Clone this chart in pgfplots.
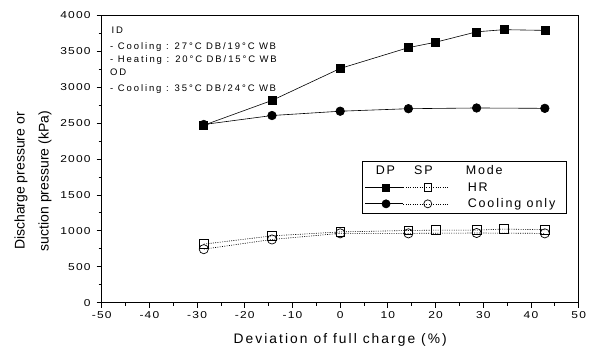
\documentclass[border=0pt]{standalone}
\usepackage{pgfplots}
\pgfplotsset{compat=1.18}
\usepackage{fontspec}
\setmainfont{Liberation Sans}[LetterSpace=15]
\newfontfamily\plainfont{Liberation Sans}
\newfontfamily\annofont{Liberation Sans}[LetterSpace=20]
\newfontfamily\tickfont{Liberation Sans}[FakeStretch=1.2, LetterSpace=12]
\newcommand\tl[1]{\hbox{\tickfont\fontsize{10}{12}\selectfont #1}}
\begin{document}
\begin{tikzpicture}
\begin{axis}[
  name=ax,
  scale only axis,
  width=477pt, height=287.4pt,
  xmin=-50, xmax=50, ymin=0, ymax=4000,
  xtick={-50,-40,...,50},
  xticklabels={\tl{-50},\tl{-40},\tl{-30},\tl{-20},\tl{-10},\tl{0},\tl{10},\tl{20},\tl{30},\tl{40},\tl{50}},
  ytick={0,500,...,4000},
  yticklabels={\tl{0},\tl{500},\tl{1000},\tl{1500},\tl{2000},\tl{2500},\tl{3000},\tl{3500},\tl{4000}},
  yticklabel style={xshift=-2.5pt},
  minor tick num=1,
  tick pos=left,
  tick align=outside,
  major tick length=5pt,
  minor tick length=3pt,
  tick style={black, line width=0.8pt},
  axis line style={line width=1pt},
  xlabel={Deviation of full charge (\%)},
  xlabel style={font=\fontsize{13.8}{15}\selectfont, at={(axis description cs:0.5,-0.141)}, anchor=base},
  ylabel={Discharge pressure or\\suction pressure (kPa)},
  ylabel style={font=\plainfont\fontsize{14}{24}\selectfont, align=center, at={(axis description cs:-0.144,0.423)}, anchor=center},
  legend style={
    at={(axis cs:4.5,1972)}, anchor=north west,
    draw=black, line width=0.8pt,
    font=\fontsize{12.5}{14}\selectfont,
    inner xsep=3pt, inner ysep=2.5pt,
    row sep=2pt,
    cells={anchor=west},
    /tikz/every odd column/.append style={column sep=17pt},
  },
  legend cell align=left,
]
\addplot[forget plot, black, line width=0.6pt, mark=square*, mark size=4pt, mark options={solid}]
  coordinates {(-28.6,2470) (-14.3,2815) (0,3260) (14.3,3550) (20,3625) (28.6,3770) (34.3,3800) (42.9,3790)};
\addplot[forget plot, black, line width=0.6pt, mark=*, mark size=4.3pt, mark options={solid}]
  coordinates {(-28.6,2480) (-14.3,2605) (0,2665) (14.3,2700) (28.6,2710) (42.9,2705)};
\addplot[forget plot, black, line width=0.6pt, dash pattern=on 1pt off 1.3pt, mark=square, mark size=4.3pt, mark options={solid, fill=white, line width=0.7pt}]
  coordinates {(-28.6,815) (-14.3,930) (0,985) (14.3,1005) (20,1010) (28.6,1010) (34.3,1025) (42.9,1015)};
\addplot[forget plot, black, line width=0.6pt, dash pattern=on 1pt off 1.3pt, mark=o, mark size=4.6pt, mark options={solid, fill=white, line width=0.7pt}]
  coordinates {(-28.6,745) (-14.3,880) (0,965) (14.3,965) (28.6,970) (42.9,965)};
\addlegendimage{empty legend}
\addlegendentry{\hspace*{-92pt}\makebox[38.3pt][l]{DP}\makebox[51.7pt][l]{SP}Mode}
\addlegendimage{legend image code/.code={
  \draw[black, solid, line width=0.8pt] (0pt,0pt) -- (38pt,0pt);
  \draw[black, line width=0.6pt, dash pattern=on 1pt off 1.3pt] (38pt,0pt) -- (83pt,0pt);
  \draw[black, solid, mark=square*, mark size=3.6pt] plot coordinates {(20.6pt,0pt)};
  \draw[black, solid, mark=square, mark size=3.8pt, mark options={fill=white, line width=0.7pt}] plot coordinates {(62.3pt,0pt)};
}}
\addlegendentry{HR}
\addlegendimage{legend image code/.code={
  \draw[black, solid, line width=0.8pt] (0pt,0pt) -- (38pt,0pt);
  \draw[black, line width=0.6pt, dash pattern=on 1pt off 1.3pt] (38pt,0pt) -- (83pt,0pt);
  \draw[black, solid, mark=*, mark size=4pt] plot coordinates {(20.6pt,0pt)};
  \draw[black, solid, mark=o, mark size=4pt, mark options={fill=white, line width=0.7pt}] plot coordinates {(62.3pt,0pt)};
}}
\addlegendentry{Cooling only\hspace*{6pt}}
\end{axis}
\begin{scope}[every node/.style={anchor=base west, inner sep=0pt, font=\annofont\fontsize{9.5}{11}\selectfont}]
\node at ([shift={(9.8pt,-18.7pt)}]ax.north west) {ID};
\node at ([shift={(8.3pt,-34pt)}]ax.north west) {- Cooling : 27\textdegree C DB/19\textdegree C W\,B};
\node at ([shift={(8.3pt,-47.4pt)}]ax.north west) {- Heating : 20\textdegree C DB/15\textdegree C W\,B};
\node at ([shift={(8.3pt,-60pt)}]ax.north west) {OD};
\node at ([shift={(8.3pt,-76.7pt)}]ax.north west) {- Cooling : 35\textdegree C DB/24\textdegree C W\,B};
\end{scope}
\pgfresetboundingbox
\path ([shift={(-101.7pt,-44.3pt)}]ax.south west) rectangle ([shift={(15.3pt,15.3pt)}]ax.north east);
\end{tikzpicture}
\end{document}
